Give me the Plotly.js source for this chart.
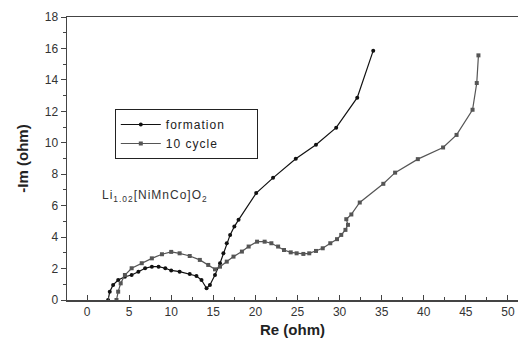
<!DOCTYPE html>
<html>
<head>
<meta charset="utf-8">
<script src="https://cdn.plot.ly/plotly-3.0.1.min.js"></script>
<style>html,body{margin:0;padding:0;background:#fff;}#chart{width:518px;height:346px;}
.legendtext{letter-spacing:1px;} .annotation-text{letter-spacing:1px;}</style>
</head>
<body>
<div id="chart"></div>
<script>
// formation (black)
const formationRe = [2.5, 2.7, 3.1, 3.7, 4.5, 5.3, 6.1, 6.9, 7.7, 8.5, 9.3, 10.0, 11.0, 12.2, 13.0, 13.6, 14.2, 14.6, 15.2, 15.8, 16.2, 16.6, 17.0, 17.5, 18.0, 20.1, 22.1, 24.8, 27.2, 29.6, 32.1, 34.0];
const formationIm = [0.0, 0.53, 0.96, 1.27, 1.48, 1.59, 1.8, 2.02, 2.12, 2.12, 2.02, 1.88, 1.8, 1.66, 1.53, 1.27, 0.74, 0.96, 1.59, 2.34, 2.97, 3.61, 4.14, 4.67, 5.1, 6.8, 7.77, 8.98, 9.87, 10.96, 12.87, 15.86];
// 10 cycle (gray)
const cycleRe = [3.5, 3.7, 4.0, 4.5, 5.3, 6.5, 7.7, 8.9, 10.0, 11.0, 12.2, 13.4, 14.4, 15.2, 15.8, 16.6, 17.4, 18.4, 19.2, 20.2, 21.1, 21.9, 22.7, 23.4, 24.2, 24.9, 25.7, 26.4, 27.2, 28.0, 28.9, 29.7, 30.2, 30.7, 31.0, 30.8, 31.4, 32.4, 35.2, 36.6, 39.3, 42.3, 43.9, 45.8, 46.3, 46.5];
const cycleIm = [0.0, 0.53, 1.06, 1.59, 2.02, 2.34, 2.65, 2.91, 3.06, 2.97, 2.8, 2.55, 2.23, 1.95, 2.12, 2.44, 2.76, 3.08, 3.4, 3.71, 3.71, 3.61, 3.4, 3.18, 3.03, 2.97, 2.93, 2.97, 3.12, 3.29, 3.61, 3.87, 4.14, 4.46, 4.78, 5.14, 5.44, 6.2, 7.39, 8.1, 8.96, 9.7, 10.5, 12.1, 13.8, 15.56];
const seriesNames = ['formation', '10 cycle'];

const font = 'Liberation Sans, Arial, sans-serif';
const pad = '\u00a0'.repeat(6);
const traces = [
  {x: formationRe, y: formationIm, name: seriesNames[0] + pad, mode: 'lines+markers',
   line: {color: '#111111', width: 1.2}, marker: {color: '#111111', size: 4, symbol: 'circle'}},
  {x: cycleRe, y: cycleIm, name: seriesNames[1], mode: 'lines+markers',
   line: {color: '#555555', width: 1.2}, marker: {color: '#555555', size: 4, symbol: 'square'}}
];
const layout = {
  width: 518, height: 346,
  margin: {l: 67, r: 0, t: 17, b: 46},
  paper_bgcolor: '#fff', plot_bgcolor: '#fff',
  font: {family: font, size: 12, color: '#333'},
  showlegend: true,
  legend: {x: 0.106, y: 0.675, xanchor: 'left', yanchor: 'top',
    bordercolor: '#222', borderwidth: 1, bgcolor: '#fff',
    font: {family: font, size: 12, color: '#222'}, itemwidth: 40,
    tracegroupgap: 0},
  xaxis: {range: [-2.38, 51.2], tickvals: [0,5,10,15,20,25,30,35,40,45,50],
    ticks: 'inside', ticklen: 5, tickcolor: '#444', showgrid: false, zeroline: false,
    showline: true, linecolor: '#444', linewidth: 1.5, mirror: true,
    minor: {dtick: 2.5, tick0: 0, ticks: 'inside', ticklen: 3, tickcolor: '#444'},
    tickfont: {family: font, size: 12, color: '#333'},
    title: {text: '<b>Re (ohm)</b>', font: {family: font, size: 15, color: '#222'}, standoff: 6}},
  yaxis: {range: [0, 18], dtick: 2, ticks: 'outside', ticklen: 5, tickcolor: '#444',
    showgrid: false, zeroline: false, showline: true, linecolor: '#444', linewidth: 1.5,
    minor: {dtick: 1, ticks: 'outside', ticklen: 3, tickcolor: '#444'},
    tickfont: {family: font, size: 12, color: '#333'},
    title: {text: '<b>-Im (ohm)</b>', font: {family: font, size: 15, color: '#222'}, standoff: 12}},
  annotations: [{x: 1.5, y: 6.6, xref: 'x', yref: 'y', xanchor: 'left', yanchor: 'middle', showarrow: false,
    text: 'Li<sub>1.02</sub>[NiMnCo]O<sub>2</sub>', font: {family: font, size: 12, color: '#333'}}]
};
Plotly.newPlot('chart', traces, layout, {displayModeBar: false, staticPlot: true});
</script>
</body>
</html>
